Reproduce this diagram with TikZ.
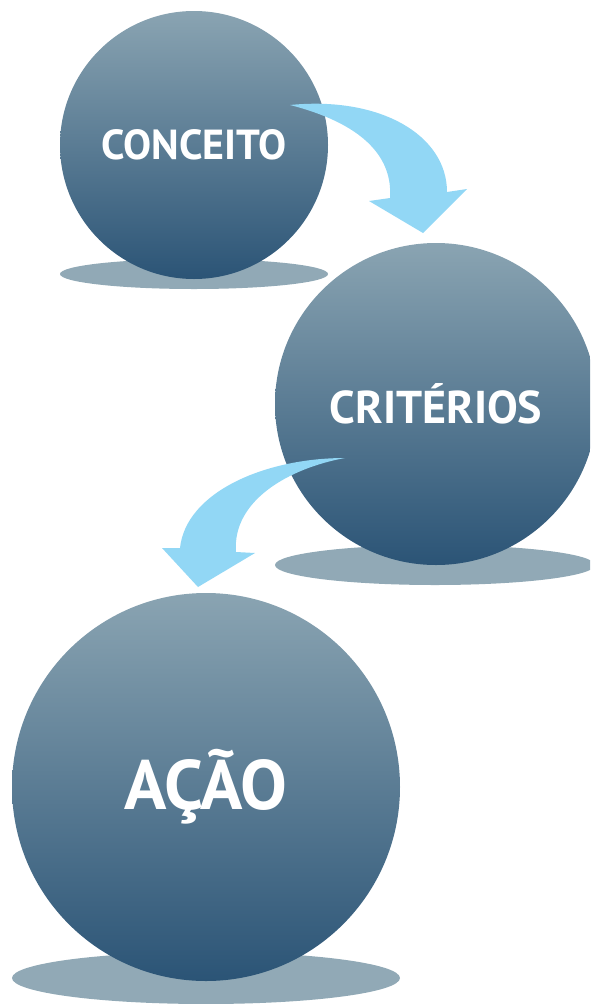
\documentclass[tikz,border=0pt]{standalone}
\usepackage{fontspec}
\setmainfont{PT Sans}

\definecolor{balltop}{HTML}{8AA4B2}
\definecolor{ballbottom}{HTML}{2B5476}
\definecolor{shadowgray}{HTML}{91A9B6}
\definecolor{arrowblue}{HTML}{92D7F5}

\tikzset{
  ball/.style={circle,top color=balltop,bottom color=ballbottom,draw=none,
    text=white,font=\bfseries,inner sep=0pt},
  floor/.style={fill=shadowgray},
  bend arrow/.style={fill=arrowblue}
}

\begin{document}
\begin{tikzpicture}[x=1pt,y=-1pt]
  \useasboundingbox (0,0) rectangle (590,1004);
  \clip (0,0) rectangle (590,1004);
  % shadows under the balls
  \fill[floor] (194,274) ellipse [x radius=134,y radius=15];
  \fill[floor] (435,565) ellipse [x radius=160,y radius=20];
  \fill[floor] (206,978) ellipse [x radius=194,y radius=26];
  \draw
    (194,145) node[ball,minimum size=268pt] (conceito)
      {\fontsize{42}{46}\selectfont CONCEITO}
    (436,404) node[ball,minimum size=322pt] (criterios)
      {\fontsize{46}{50}\selectfont CRITÉRIOS}
    (206,787) node[ball,minimum size=388pt] (acao)
      {\fontsize{70}{74}\selectfont AÇÃO};
  % curved arrows between the steps
  \begin{scope}
    \fill[bend arrow] (290,105) .. controls (380,96) and (447,135) .. (447,192)
      -- (467,189) -- (423,233) -- (369,201) -- (390,198)
      .. controls (393,155) and (360,123) .. cycle;
    \fill[bend arrow] (345,458) .. controls (265,458) and (186,492) .. (180,548)
      -- (162,548) -- (198,587) -- (255,553) -- (236,552)
      .. controls (232,500) and (290,468) .. cycle;
  \end{scope}
\end{tikzpicture}
\end{document}
